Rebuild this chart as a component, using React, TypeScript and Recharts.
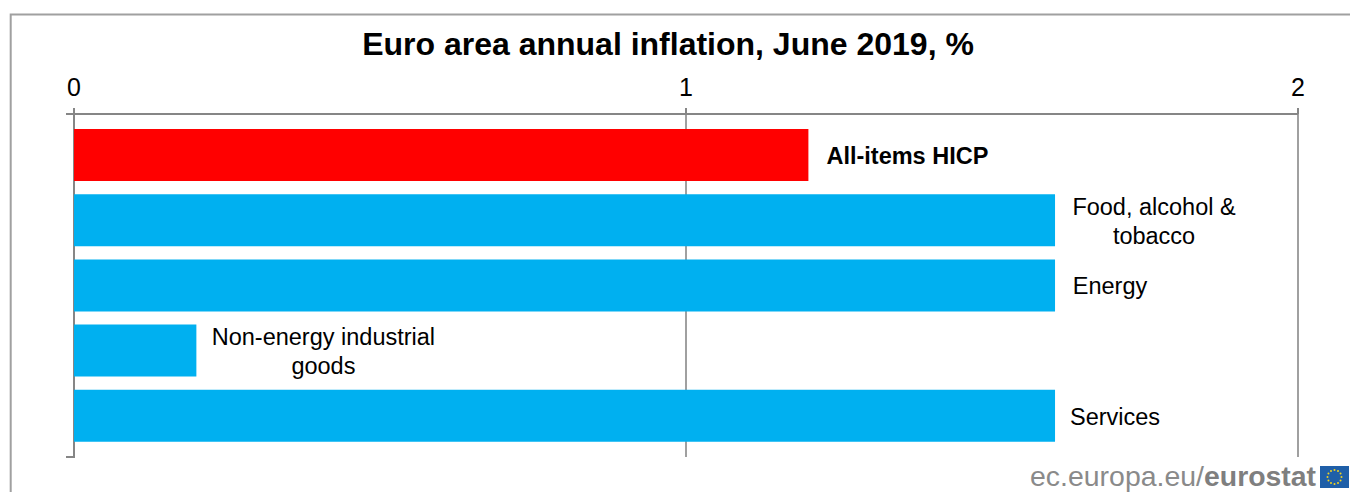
import React from "react";
import { BarChart, Bar, XAxis, YAxis, CartesianGrid, Cell, LabelList, Customized } from "recharts";

const categories = ["All-items HICP", "Food, alcohol & tobacco", "Energy", "Non-energy industrial goods", "Services"];
const values = [1.2, 1.603, 1.603, 0.2, 1.603];
const colors = ["#FF0000", "#00B0F0", "#00B0F0", "#00B0F0", "#00B0F0"];
const labelLines = [["All-items HICP"], ["Food, alcohol &", "tobacco"], ["Energy"], ["Non-energy industrial", "goods"], ["Services"]];
const labelCentreOffsets = [99, 99, 55, 127, 60];
const xTicks = [0, 1, 2];
const title = "Euro area annual inflation, June 2019, %";

const data = categories.map((name, i) => ({ name, value: values[i] }));
const FONT = "'Liberation Sans', Arial, sans-serif";
const AXIS = "#868686";

function BarLabel(props: any) {
  const { x, y, width, height, index } = props;
  const lines = labelLines[index];
  const cx = x + width + labelCentreOffsets[index];
  const cy = y + height / 2;
  const lh = 29;
  return (
    <text textAnchor="middle" fontFamily={FONT} fontSize={23.5} fill="#000" fontWeight={index === 0 ? 700 : 400}>
      {lines.map((l: string, i: number) => (
        <tspan key={i} x={cx} y={cy + 9 + (i - (lines.length - 1) / 2) * lh}>{l}</tspan>
      ))}
    </text>
  );
}

function Decor() {
  const stars = Array.from({ length: 12 }, (_, i) => i);
  return (
    <g>
      <path d="M10.7 492 V14.5 H1350" fill="none" stroke="#a0a0a0" strokeWidth={2} />
      <text x={668} y={55} textAnchor="middle" fontFamily={FONT} fontSize={32} fontWeight={700} fill="#000">{title}</text>
      <path d="M66 114 H74 M66 457 H74 M74 108 V458" fill="none" stroke={AXIS} strokeWidth={2} />
      <text x={1030} y={486} fontFamily={FONT} fontSize={28} fill="#8a8a8a" textLength={174} lengthAdjust="spacingAndGlyphs">ec.europa.eu/</text>
      <text x={1204} y={486} fontFamily={FONT} fontSize={28} fontWeight={700} fill="#7f7f7f" textLength={112} lengthAdjust="spacingAndGlyphs">eurostat</text>
      <rect x={1320} y={466} width={29} height={22} fill="#1f5fa8" />
      {stars.map((i) => (
        <circle key={i} cx={1334.5 + 7 * Math.cos((i * Math.PI) / 6)} cy={477 + 7 * Math.sin((i * Math.PI) / 6)} r={1} fill="#f2d21f" />
      ))}
    </g>
  );
}

export default function App() {
  return (
    <div style={{ position: "absolute", left: 0, top: 0, width: 1350, height: 492, overflow: "hidden", background: "#fff" }}>
      <BarChart
        width={1350}
        height={492}
        data={data}
        layout="vertical"
        barCategoryGap={0}
        margin={{ top: 84, right: 52, bottom: 35, left: 74 }}
      >
        <CartesianGrid horizontal={false} stroke="#a0a0a0" strokeWidth={2} />
        <XAxis
          type="number"
          orientation="top"
          height={30}
          domain={[0, 2]}
          ticks={xTicks}
          interval={0}
          axisLine={{ stroke: AXIS, strokeWidth: 2 }}
          tickLine={{ stroke: AXIS, strokeWidth: 2 }}
          tickSize={6}
          tickMargin={12}
          tick={{ fontFamily: FONT, fontSize: 25, fill: "#000" }}
        />
        <YAxis
          type="category"
          dataKey="name"
          width={0}
          padding={{ top: 8, bottom: 9 }}
          axisLine={false}
          tickLine={false}
          tick={false}
        />
        <Bar dataKey="value" barSize={52} isAnimationActive={false}>
          {data.map((d, i) => (
            <Cell key={d.name} fill={colors[i]} />
          ))}
          <LabelList dataKey="value" content={BarLabel} />
        </Bar>
        <Customized component={Decor} />
      </BarChart>
    </div>
  );
}
